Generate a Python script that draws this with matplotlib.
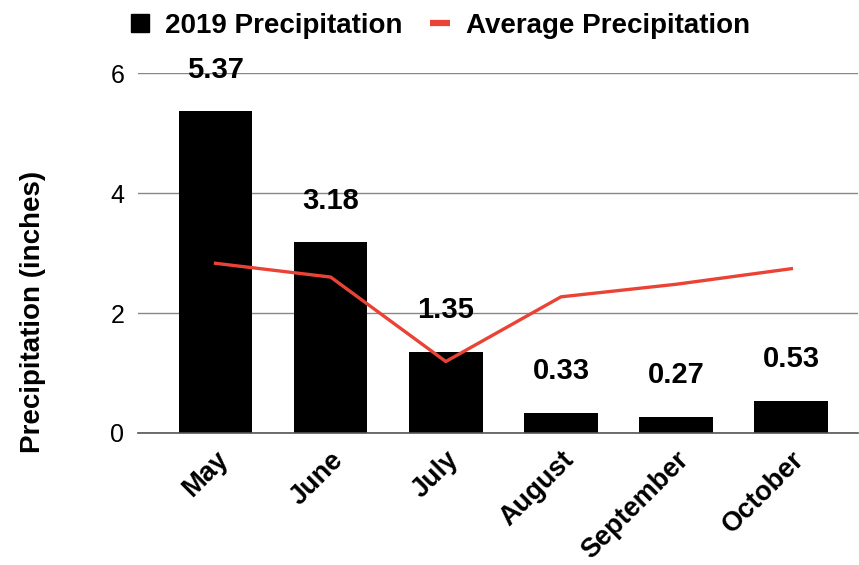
import matplotlib.pyplot as plt
from matplotlib.lines import Line2D

plt.rcParams['font.family'] = ['Liberation Sans', 'DejaVu Sans']

# datos
months = ["May", "June", "July", "August", "September", "October"]
precip_2019 = [5.37, 3.18, 1.35, 0.33, 0.27, 0.53]
precip_avg = [2.83, 2.60, 1.19, 2.27, 2.48, 2.74]
y_ticks = [0, 2, 4, 6]

BAR_COLOR = "#000000"
LINE_COLOR = "#ea4335"

fig = plt.figure(figsize=(8.59, 5.65), dpi=100)
ax = fig.add_axes([0.161, 0.234, 0.838, 0.636])

x = list(range(len(months)))
ax.bar(x, precip_2019, width=0.64, color=BAR_COLOR, zorder=2)
ax.plot(x, precip_avg, color=LINE_COLOR, linewidth=2.4, zorder=3)

# etiquetas sobre las barras
for xi, v in zip(x, precip_2019):
    ax.annotate(f"{v:.2f}", (xi, v), xytext=(0, 30), textcoords="offset points",
                ha="center", va="center", fontsize=21, fontweight="bold",
                clip_on=False, zorder=4)

ax.set_xlim(-0.67, 5.58)
ax.set_ylim(0, 6)
ax.set_yticks(y_ticks)
ax.set_yticklabels([str(t) for t in y_ticks], fontsize=18)
ax.tick_params(axis="y", length=0, pad=10)
ax.tick_params(axis="x", length=0, pad=10)
ax.set_xticks(x)
ax.set_xticklabels(months, rotation=45, ha="right", va="top",
                   rotation_mode="anchor", fontsize=19.5, fontweight="bold")

ax.grid(axis="y", color="#888888", linewidth=1.0, zorder=0)
for s in ["top", "right", "left"]:
    ax.spines[s].set_visible(False)
ax.spines["bottom"].set_color("#555555")
ax.spines["bottom"].set_linewidth(1.2)

ax.set_ylabel("Precipitation (inches)", fontsize=20, fontweight="bold")
ax.yaxis.set_label_coords(-0.128, 0.336)

# leyenda: cuadrado negro y guion rojo
legend_elements = [
    Line2D([], [], marker="s", linestyle="none", markersize=12.5,
           color=BAR_COLOR, label="2019 Precipitation"),
    Line2D([], [], color=LINE_COLOR, linewidth=4.5, solid_capstyle="butt",
           label="Average Precipitation"),
]
fig.legend(handles=legend_elements, loc="upper center", bbox_to_anchor=(0.512, 1.022),
           ncol=2, frameon=False, prop={"weight": "bold", "size": 20},
           handlelength=0.72, handletextpad=0.55, columnspacing=1.0)

plt.savefig("out.png", dpi=100)
